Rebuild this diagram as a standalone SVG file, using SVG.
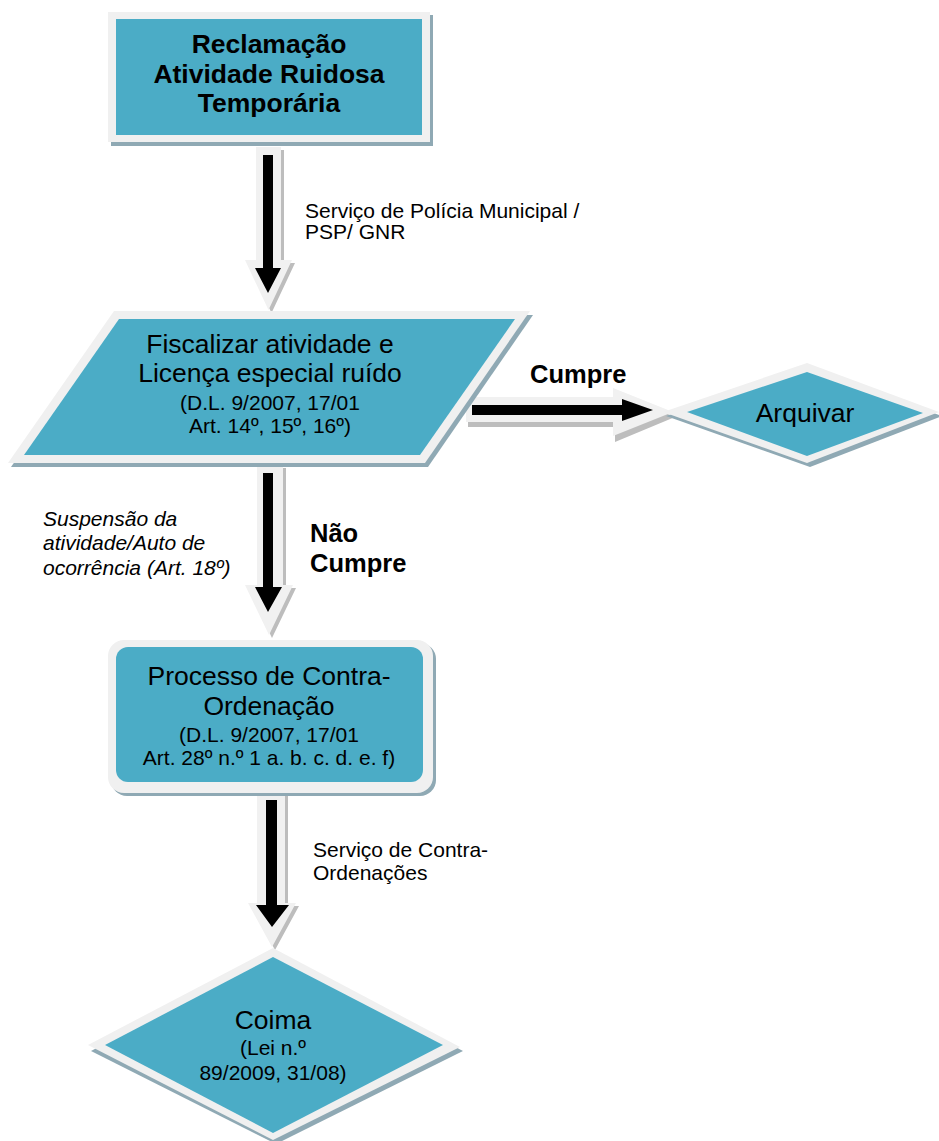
<svg xmlns="http://www.w3.org/2000/svg" width="939" height="1141" viewBox="0 0 939 1141">
<style>
.bg{fill:#ffffff}
.sh{fill:#8fa9b4}
.bd{fill:#f0f0f0}
.tl{fill:#4bacc6}
.ash{fill:#bdbdbd}
.alt{fill:#f1f1f1}
.ablk{fill:#000000}
text{font-family:"Liberation Sans",Arial,sans-serif;fill:#000}
.big{font-size:26.5px;text-anchor:middle}
.sm{font-size:21px;text-anchor:middle}
.lbl{font-size:21px}
.bold{font-weight:bold}
.it{font-style:italic}
</style>
<rect class="bg" x="0" y="0" width="939" height="1141"/>

<g id="connectors">
  <!-- arrow 1 -->
  <polygon class="ash" points="259,150 284,150 284,263 295,263 271.5,313 248,263 259,263"/>
  <polygon class="alt" points="256,147 281,147 281,260 292,260 268.5,310 245,260 256,260"/>
  <polygon class="ablk" points="263,155 273,155 273,268 281,268 268,293 255,268 263,268"/>
  <!-- arrow right (Cumpre) -->
  <polygon class="ash" points="468,402 615,402 615,393 675,417 615,442 615,427 468,427"/>
  <polygon class="alt" points="466,397 613,397 613,388 673,412 613,436 613,422 466,422"/>
  <polygon class="ablk" points="472,405 622,405 622,399 653,410 622,421 622,415 472,415"/>
  <!-- arrow 2 -->
  <polygon class="ash" points="260,468 286,468 286,588 296,588 272,638 248,588 260,588"/>
  <polygon class="alt" points="257,465 283,465 283,585 293,585 269,635 245,585 257,585"/>
  <polygon class="ablk" points="263,473 273,473 273,587 282,587 268,612 255,587 263,587"/>
  <!-- arrow 3 -->
  <polygon class="ash" points="260,795 288,795 288,906 299,906 275,950 251,906 260,906"/>
  <polygon class="alt" points="257,792 285,792 285,903 296,903 272,947 248,903 257,903"/>
  <polygon class="ablk" points="266,800 277,800 277,905 289,905 272,927 256,905 266,905"/>
  <text class="lbl" x="305" y="218">Serviço de Polícia Municipal /</text>
  <text class="lbl" x="305" y="239">PSP/ GNR</text>
  <text class="bold" x="530" y="383" font-size="25.5">Cumpre</text>
  <text class="lbl it" x="43" y="526">Suspensão da</text>
  <text class="lbl it" x="43" y="550">atividade/Auto de</text>
  <text class="lbl it" x="43" y="575">ocorrência (Art. 18º)</text>
  <text class="bold" x="310" y="542" font-size="25.5">Não</text>
  <text class="bold" x="310" y="572" font-size="25.5">Cumpre</text>
  <text class="lbl" x="313" y="857">Serviço de Contra-</text>
  <text class="lbl" x="313" y="880">Ordenações</text>
</g>

<g id="node-reclamacao">
  <rect class="sh" x="111" y="15" width="322" height="131"/>
  <rect class="bd" x="108" y="12" width="322" height="130"/>
  <rect class="tl" x="116" y="19" width="306" height="116"/>
  <text class="big bold" x="269" y="53">Reclamação</text>
  <text class="big bold" x="269" y="83">Atividade Ruidosa</text>
  <text class="big bold" x="269" y="112">Temporária</text>
</g>

<g id="node-fiscalizar">
  <polygon class="sh" points="117,315 533,315 428,467 11,467"/>
  <polygon class="bd" points="114,311 530,311 425,463 8,463"/>
  <polygon class="tl" points="119,319 515,319 420,455 24,455"/>
  <text class="big" x="270" y="353">Fiscalizar atividade e</text>
  <text class="big" x="270" y="382">Licença especial ruído</text>
  <text class="sm" x="270" y="410">(D.L. 9/2007, 17/01</text>
  <text class="sm" x="270" y="433">Art. 14º, 15º, 16º)</text>
</g>

<g id="node-arquivar">
  <polygon class="sh" points="666,416 810,367 942,416 810,467"/>
  <polygon class="bd" points="663,412 807,363 939,412 807,463"/>
  <polygon class="tl" points="687,412 807,372 923,413 807,456"/>
  <text class="big" x="805" y="422">Arquivar</text>
</g>

<g id="node-processo">
  <rect class="sh" x="111" y="643" width="325" height="153" rx="16"/>
  <rect class="bd" x="108" y="640" width="325" height="153" rx="16"/>
  <rect class="tl" x="116" y="647" width="307" height="135" rx="12"/>
  <text class="big" x="269" y="685">Processo de Contra-</text>
  <text class="big" x="269" y="715">Ordenação</text>
  <text class="sm" x="269" y="742">(D.L. 9/2007, 17/01</text>
  <text class="sm" x="269" y="765">Art. 28º n.º 1 a. b. c. d. e. f)</text>
</g>

<g id="node-coima">
  <polygon class="sh" points="276,952 463,1051 276,1144 91,1051"/>
  <polygon class="bd" points="273,948 460,1047 273,1140 88,1045"/>
  <polygon class="tl" points="273,957 443,1045 273,1133 105,1045"/>
  <text class="big" x="273" y="1029">Coima</text>
  <text class="sm" x="273" y="1055">(Lei n.º</text>
  <text class="sm" x="273" y="1080">89/2009, 31/08)</text>
</g>
</svg>
